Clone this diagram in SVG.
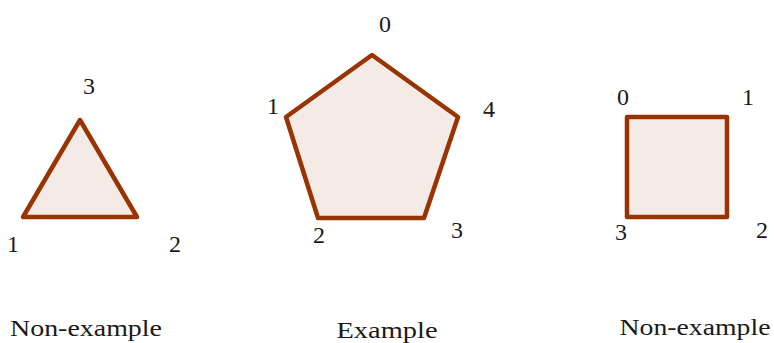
<svg xmlns="http://www.w3.org/2000/svg" width="774" height="343" viewBox="0 0 774 343">
<style>
svg text, text{font-family:"Liberation Serif","Times New Roman",serif !important;fill:#1a1a1a}
.shape{fill:#f4ebe6;stroke:#993300;stroke-width:4.5;stroke-linejoin:round}
</style>
<rect width="774" height="343" fill="#ffffff"/>
<g id="triangle">
<polygon class="shape" points="80,120 23,217 137,217"/>
<text style="font-family:'Liberation Serif',serif !important;font-size:24px" text-anchor="middle" x="89" y="94">3</text>
<text style="font-family:'Liberation Serif',serif !important;font-size:24px" text-anchor="middle" x="13" y="252">1</text>
<text style="font-family:'Liberation Serif',serif !important;font-size:24px" text-anchor="middle" x="175" y="252">2</text>
</g>
<g id="pentagon">
<polygon class="shape" points="372,55 286,117 318,218 424,218 458,117"/>
<text style="font-family:'Liberation Serif',serif !important;font-size:24px" text-anchor="middle" x="385" y="32">0</text>
<text style="font-family:'Liberation Serif',serif !important;font-size:24px" text-anchor="middle" x="273" y="114">1</text>
<text style="font-family:'Liberation Serif',serif !important;font-size:24px" text-anchor="middle" x="489" y="117">4</text>
<text style="font-family:'Liberation Serif',serif !important;font-size:24px" text-anchor="middle" x="319" y="243">2</text>
<text style="font-family:'Liberation Serif',serif !important;font-size:24px" text-anchor="middle" x="457" y="238">3</text>
</g>
<g id="square">
<rect class="shape" x="627" y="117" width="100" height="100"/>
<text style="font-family:'Liberation Serif',serif !important;font-size:24px" text-anchor="middle" x="623" y="105">0</text>
<text style="font-family:'Liberation Serif',serif !important;font-size:24px" text-anchor="middle" x="748" y="105">1</text>
<text style="font-family:'Liberation Serif',serif !important;font-size:24px" text-anchor="middle" x="621" y="240">3</text>
<text style="font-family:'Liberation Serif',serif !important;font-size:24px" text-anchor="middle" x="762" y="238">2</text>
</g>
<g id="captions">
<text style="font-family:'Liberation Serif',serif !important;font-size:24px" text-anchor="middle" x="86" y="336" textLength="152" lengthAdjust="spacingAndGlyphs">Non-example</text>
<text style="font-family:'Liberation Serif',serif !important;font-size:24px" text-anchor="middle" x="387" y="338" textLength="101" lengthAdjust="spacingAndGlyphs">Example</text>
<text style="font-family:'Liberation Serif',serif !important;font-size:24px" text-anchor="middle" x="695" y="335" textLength="151" lengthAdjust="spacingAndGlyphs">Non-example</text>
</g>
<g id="connectors"></g>
</svg>
